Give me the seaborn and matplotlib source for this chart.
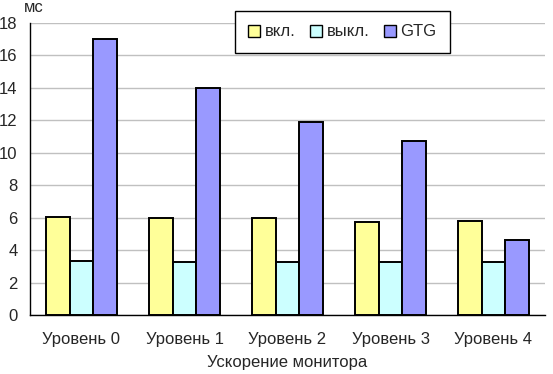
import matplotlib
matplotlib.use("Agg")
import matplotlib.pyplot as plt
import seaborn as sns
import pandas as pd
import numpy as np

categories = ["Уровень 0", "Уровень 1", "Уровень 2", "Уровень 3", "Уровень 4"]
series_names = ["вкл.", "выкл.", "GTG"]
vkl = [6.05, 6.0, 5.95, 5.75, 5.8]
vykl = [3.3, 3.25, 3.25, 3.25, 3.25]
gtg = [17.0, 14.0, 11.9, 10.75, 4.6]
yticks = [0, 2, 4, 6, 8, 10, 12, 14, 16, 18]
colors = ["#FFFF99", "#CCFFFF", "#9999FF"]

df = pd.DataFrame({
    "cat": categories * 3,
    "series": [series_names[0]] * 5 + [series_names[1]] * 5 + [series_names[2]] * 5,
    "val": vkl + vykl + gtg,
})

sns.set_style("white")
plt.rcParams["font.family"] = ["Liberation Sans", "DejaVu Sans"]
FS = 12

fig = plt.figure(figsize=(5.53, 3.74), dpi=100)
ax = fig.add_axes([30 / 553, 1 - 315 / 374, 515 / 553, 292 / 374])

sns.barplot(data=df, x="cat", y="val", hue="series", palette=colors,
            edgecolor="black", linewidth=1.4, width=0.68, gap=0.0, saturation=1,
            ax=ax, zorder=3)

ax.set_ylim(0, 18)
ax.set_xlim(-0.5, 4.5)
ax.set_yticks(yticks)
ax.set_yticklabels([str(t) for t in yticks], fontsize=FS)
ax.yaxis.grid(True, color="#C0C0C0", linewidth=1, zorder=0)
ax.set_axisbelow(True)

ax.set_xticks(np.arange(5))
ax.set_xticklabels(categories, fontsize=FS)
ax.tick_params(axis="x", length=0, pad=12)
ax.set_xticks(np.arange(-0.5, 5.0, 1.0), minor=True)
ax.tick_params(axis="x", which="minor", length=5, width=1, color="black", direction="out")
ax.tick_params(axis="y", length=6, width=1, color="black", direction="out", pad=3)

for s in ["top", "right"]:
    ax.spines[s].set_visible(False)
for s in ["left", "bottom"]:
    ax.spines[s].set_color("black")
    ax.spines[s].set_linewidth(1)

ax.set_xlabel("Ускорение монитора", fontsize=FS, labelpad=6)
ax.set_ylabel("")
fig.text(24 / 553, 1 - 8 / 374, "мс", fontsize=FS, ha="left", va="center")

leg = ax.legend(loc="center", bbox_to_anchor=(205 / 515, 263 / 292, 215 / 515, 40 / 292),
                mode="expand", ncol=3, frameon=True, fontsize=FS, handlelength=0.7,
                handleheight=0.7, handletextpad=0.3, columnspacing=1.5, borderaxespad=0,
                borderpad=0.8, fancybox=False, framealpha=1)
leg.get_frame().set_edgecolor("black")
leg.get_frame().set_linewidth(1)
leg.set_zorder(5)
for h in leg.legend_handles:
    h.set_edgecolor("black")
    h.set_linewidth(1)

fig.savefig("out.png", dpi=100)
